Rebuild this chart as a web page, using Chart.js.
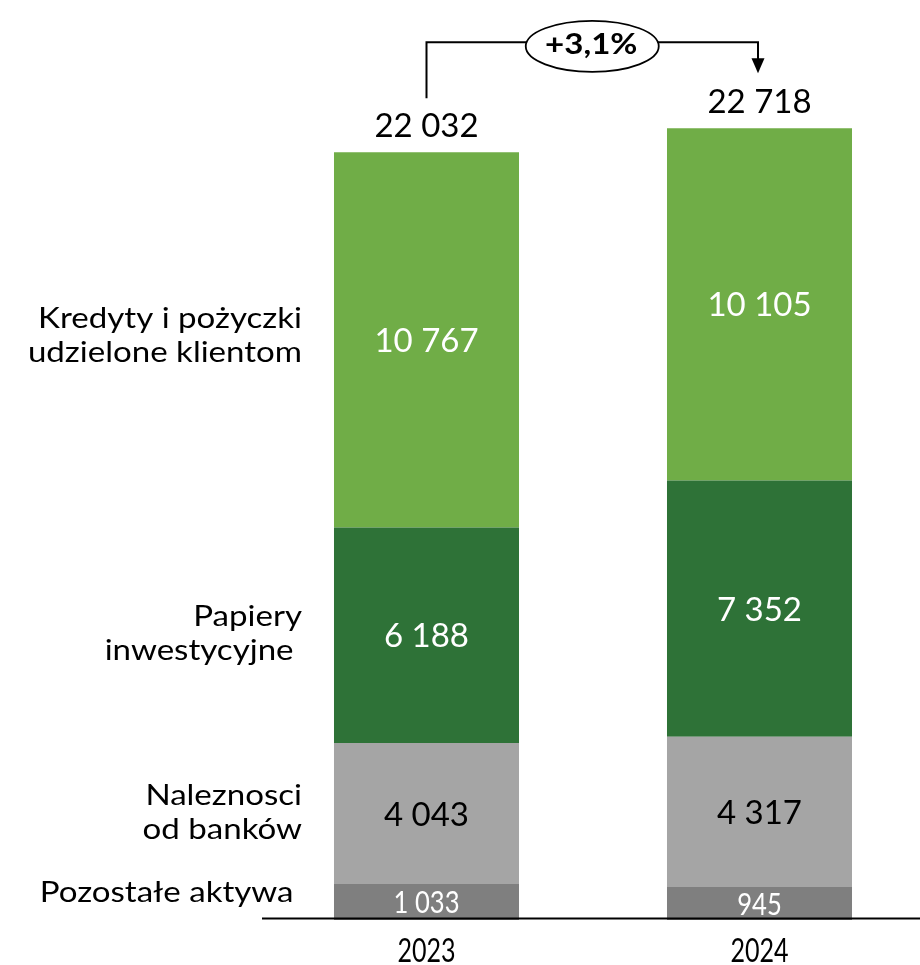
<!DOCTYPE html>
<html>
<head>
<meta charset="utf-8">
<script src="https://cdn.jsdelivr.net/npm/chart.js@4.4.1/dist/chart.umd.min.js"></script>
<style>
  html, body { margin: 0; padding: 0; background: #fff; overflow: hidden; }
  #wrap { width: 920px; height: 965px; overflow: hidden; position: relative; }
  canvas { display: block; }
</style>
</head>
<body>
<div id="wrap"><canvas id="c" width="926" height="965"></canvas></div>
<script>
// ---- data ----
const categories = ['2023', '2024'];
const seriesNames = ['Pozostałe aktywa ', 'Naleznosci\nod banków', 'Papiery\ninwestycyjne ', 'Kredyty i pożyczki\nudzielone klientom'];
const pozostaleAktywa = [1033, 945];
const naleznosciOdBankow = [4043, 4317];
const papieryInwestycyjne = [6188, 7352];
const kredytyIPozyczki = [10767, 10105];
const totals = [22032, 22718];
const growthLabel = '+3,1%';

const seriesColors = ['#7F7F7F', '#A5A5A5', '#2E7237', '#70AD47'];
const labelColors = ['#FFFFFF', '#000000', '#FFFFFF', '#FFFFFF'];
const FONT = 'Lato, Carlito, "Noto Sans", sans-serif';

function fmt(n) { return String(n).replace(/\B(?=(\d{3})+(?!\d))/g, ' '); }

function scaledText(ctx, text, x, y, sx) {
  ctx.save();
  ctx.translate(x, y);
  ctx.scale(sx, 1);
  ctx.fillText(text, 0, 0);
  ctx.restore();
}

const overlay = {
  id: 'overlay',
  afterDatasetsDraw(chart) {
    const ctx = chart.ctx;
    const area = chart.chartArea;
    const xs = chart.scales.x;
    ctx.save();
    ctx.textBaseline = 'alphabetic';

    // value labels inside segments
    chart.data.datasets.forEach((ds, i) => {
      const meta = chart.getDatasetMeta(i);
      meta.data.forEach((el, j) => {
        const cy = (el.y + el.base) / 2;
        const small = (el.base - el.y) < 45;
        ctx.fillStyle = labelColors[i];
        ctx.textAlign = 'center';
        if (small) {
          ctx.font = '30.5px ' + FONT;
          scaledText(ctx, fmt(ds.data[j]), el.x, cy + 11, 0.84);
        } else {
          ctx.font = '33px ' + FONT;
          ctx.fillText(fmt(ds.data[j]), el.x, cy + 12);
        }
      });
    });

    // category labels on the left, aligned with 2023 segments
    ctx.fillStyle = '#000';
    ctx.font = '28.5px ' + FONT;
    ctx.textAlign = 'right';
    chart.data.datasets.forEach((ds, i) => {
      const el = chart.getDatasetMeta(i).data[0];
      const cy = (el.y + el.base) / 2;
      const lines = seriesNames[i].split('\n');
      let y0 = lines.length === 1 ? cy : cy - 9;
      if (i === 3) y0 = cy - 11.5;
      lines.forEach((ln, k) => scaledText(ctx, ln, area.left + 42, y0 + k * 34, 1.16));
    });

    // axis line
    const yBase = chart.scales.y.getPixelForValue(0);
    ctx.strokeStyle = '#000';
    ctx.lineWidth = 2;
    ctx.beginPath();
    ctx.moveTo(area.left + 2, yBase - 1.5);
    ctx.lineTo(area.right, yBase - 1.5);
    ctx.stroke();

    // year labels (condensed)
    ctx.font = '33px ' + FONT;
    ctx.textAlign = 'center';
    categories.forEach((c, j) => scaledText(ctx, c, xs.getPixelForValue(j), yBase + 41.5, 0.76));

    // totals above bars
    const topMeta = chart.getDatasetMeta(chart.data.datasets.length - 1);
    ctx.font = '33px ' + FONT;
    const tops = topMeta.data.map(el => el.y);
    const xsBar = topMeta.data.map(el => el.x);
    totals.forEach((t, j) => ctx.fillText(fmt(t), xsBar[j], tops[j] - 15.5));

    // growth bracket
    const hy = Math.min(...tops) - 86;
    const x1 = xsBar[0], x2 = xsBar[1] - 1.5;
    const tip = tops[1] - 55;
    ctx.lineWidth = 2;
    ctx.beginPath();
    ctx.moveTo(x1, tops[0] - 54);
    ctx.lineTo(x1, hy);
    ctx.lineTo(x2, hy);
    ctx.lineTo(x2, tip - 14);
    ctx.stroke();
    ctx.beginPath();
    ctx.moveTo(x2 - 6.5, tip - 15);
    ctx.lineTo(x2 + 6.5, tip - 15);
    ctx.lineTo(x2, tip);
    ctx.closePath();
    ctx.fillStyle = '#000';
    ctx.fill();

    const ex = (x1 + x2) / 2, ey = hy + 4;
    ctx.beginPath();
    ctx.ellipse(ex, ey, 66.5, 25.5, 0, 0, Math.PI * 2);
    ctx.fillStyle = '#fff';
    ctx.fill();
    ctx.lineWidth = 1.8;
    ctx.stroke();
    ctx.fillStyle = '#000';
    ctx.font = 'bold 29px ' + FONT;
    scaledText(ctx, growthLabel, ex - 1, ey + 7.5, 1.14);

    ctx.restore();
  }
};

new Chart(document.getElementById('c'), {
  type: 'bar',
  data: {
    labels: categories,
    datasets: [
      { label: seriesNames[0], data: pozostaleAktywa, backgroundColor: seriesColors[0] },
      { label: seriesNames[1], data: naleznosciOdBankow, backgroundColor: seriesColors[1] },
      { label: seriesNames[2], data: papieryInwestycyjne, backgroundColor: seriesColors[2] },
      { label: seriesNames[3], data: kredytyIPozyczki, backgroundColor: seriesColors[3] }
    ]
  },
  options: {
    responsive: false,
    animation: false,
    devicePixelRatio: 1,
    layout: { padding: { left: 260, right: 0, top: 0, bottom: 45 } },
    datasets: { bar: { barPercentage: 0.5556, categoryPercentage: 1, borderWidth: 0 } },
    plugins: { legend: { display: false }, tooltip: { enabled: false }, title: { display: false } },
    scales: {
      x: { stacked: true, display: false },
      y: { stacked: true, display: false, min: 0, max: 26400 }
    }
  },
  plugins: [overlay]
});
</script>
</body>
</html>
